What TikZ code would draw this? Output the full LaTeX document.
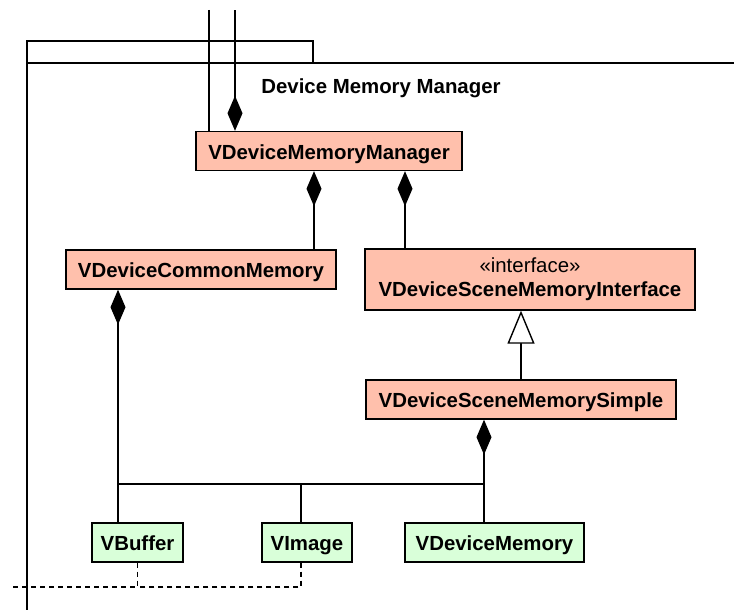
\documentclass[tikz,border=0pt]{standalone}
\usepackage{fontspec}
\setmainfont{Liberation Sans}
\usepackage{tikz}
\usetikzlibrary{arrows.meta}

\definecolor{classred}{RGB}{255,192,172}
\definecolor{classgreen}{RGB}{217,255,217}

\begin{document}
\begin{tikzpicture}[
    x=1pt, y=-1pt,
    line width=1.4pt,
    every node/.style={font=\fontsize{20.4}{24}\selectfont},
    ifacebox/.style={draw, fill=classred, minimum height=39pt, inner sep=0pt, align=center, font=\fontsize{20.4}{24}\selectfont\bfseries},
    classbox/.style={ifacebox, text height=16.5pt, text depth=0pt},
    implbox/.style={classbox, fill=classgreen},
    comp/.style={{Diamond[length=35pt,width=15pt]}-},
    gen/.style={-{Triangle[length=33pt,width=27pt,fill=white]}},
    dep/.style={dashed, line width=1.2pt, dash pattern=on 5pt off 4pt}
]
\useasboundingbox (0,0) rectangle (734,610);
% package frame
\draw (27,610) -- (27,41) -- (313,41) -- (313,63);
\draw (27,63) -- (734,63);
\node[font=\fontsize{20.4}{24}\selectfont\bfseries] (pkg) at (381,88) {Device Memory Manager};
% classes
\node[classbox, minimum width=266pt] (mgr) at (329,151) {VDeviceMemoryManager};
\node[classbox, minimum width=270pt] (common) at (201,269.5) {VDeviceCommonMemory};
\node[ifacebox, minimum width=330pt, minimum height=61pt] (iface) at (530,279.5) {{\normalfont «interface»}\\VDeviceSceneMemoryInterface};
\node[classbox, minimum width=310pt] (simple) at (521,399.5) {VDeviceSceneMemorySimple};
\node[implbox, minimum width=91pt] (buffer) at (137.5,542.5) {VBuffer};
\node[implbox, minimum width=90pt] (image) at (307,542.5) {VImage};
\node[implbox, minimum width=179pt] (devmem) at (494.5,542.5) {VDeviceMemory};
% junctions and free ends
\coordinate (topA) at (209,10);
\coordinate (topB) at (235,10);
\coordinate (jL) at (118,484);
\coordinate (jM) at (301,484);
\coordinate (jR) at (484,484);
\coordinate (dL) at (9,587);
% connectors
\draw (topA) -- (topA |- mgr.north);
\draw[comp] (mgr.north -| topB) -- (topB);
\draw[comp] ([xshift=-15pt]mgr.south) -- ([xshift=-15pt]mgr.south |- common.north);
\draw[comp] ([xshift=76pt]mgr.south) -- ([xshift=76pt]mgr.south |- iface.north);
\draw[gen] (simple.north) -- (simple.north |- iface.south);
\draw[comp] (common.south -| jL) -- (jL) -- (buffer.north -| jL);
\draw (jL) -- (jR);
\draw (jM) -- (image.north -| jM);
\draw[comp] (simple.south -| jR) -- (jR) -- (devmem.north -| jR);
\draw[dep] (jM |- image.south) |- (buffer.south |- dL);
\draw[dep] (buffer.south) |- (dL);
\end{tikzpicture}
\end{document}
